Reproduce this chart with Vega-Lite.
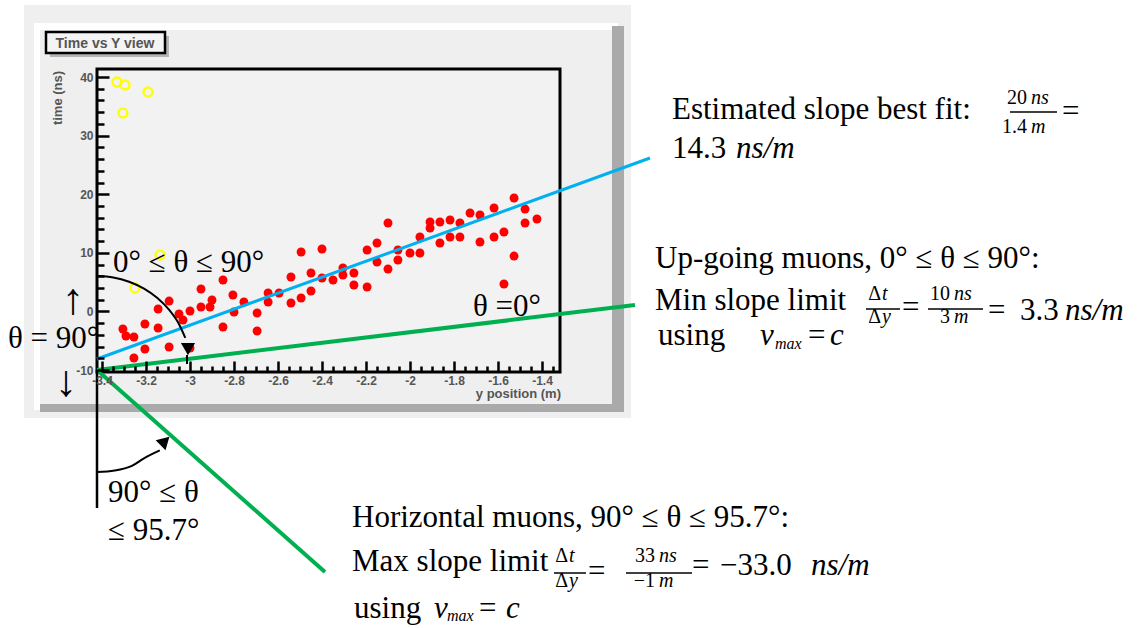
{
  "$schema": "https://vega.github.io/schema/vega-lite/v6.json",
  "width": 463,
  "height": 303,
  "autosize": {"type": "none"},
  "padding": {"left": 97, "top": 69, "right": 587, "bottom": 256},
  "background": "white",
  "config": {"view": {"stroke": null}},
  "datasets": {
    "canvas": [{"x": -3.7545, "x2": -0.9955, "y": 52.287, "y2": -18.191}],
    "padLight": [
      {"x": -3.7091, "x2": -1.0545, "y": 49.215, "y2": 48.02},
      {"x": -3.7091, "x2": -3.6818, "y": 49.215, "y2": -16.826}
    ],
    "padShade": [
      {"x": -1.0818, "x2": -1.0273, "y": 48.703, "y2": -17.167},
      {"x": -3.6818, "x2": -1.0273, "y": -15.802, "y2": -17.167}
    ],
    "titleShadow": [{"x": -3.6364, "x2": -3.0955, "y": 46.997, "y2": 43.413}],
    "titleBox": [{"x": -3.6545, "x2": -3.1136, "y": 47.679, "y2": 44.096}],
    "titleText": [{"x": -3.3864, "y": 44.949, "t": "Time vs Y view"}],
    "yTitle": [{"x": -3.6, "y": 36.416, "t": "time (ns)"}],
    "xTitle": [{"x": -1.3136, "y": -14.778, "t": "y position (m)"}],
    "frame": [{"x": -3.4227, "x2": -1.3182, "y": 41.37, "y2": -10.34}],
    "hits": [
      {"x": -3.305, "y": -3.0}, {"x": -3.291, "y": -4.2}, {"x": -3.255, "y": -4.37}, {"x": -3.205, "y": -2.15},
      {"x": -3.205, "y": -6.42}, {"x": -3.255, "y": -7.95}, {"x": -3.145, "y": 0.41}, {"x": -3.145, "y": -2.83},
      {"x": -3.095, "y": 1.77}, {"x": -3.095, "y": -6.07}, {"x": -3.05, "y": -0.44}, {"x": -3.032, "y": -1.47},
      {"x": -3.0, "y": 0.07}, {"x": -3.0, "y": -6.25}, {"x": -2.95, "y": 3.82}, {"x": -2.95, "y": 0.75},
      {"x": -2.9, "y": 1.95}, {"x": -2.909, "y": 0.75}, {"x": -2.85, "y": 5.36}, {"x": -2.85, "y": -2.66},
      {"x": -2.805, "y": 2.8}, {"x": -2.8, "y": -0.1}, {"x": -2.755, "y": 1.6}, {"x": -2.695, "y": -0.27},
      {"x": -2.695, "y": -3.34}, {"x": -2.645, "y": 3.14}, {"x": -2.645, "y": 1.6}, {"x": -2.595, "y": 3.14},
      {"x": -2.541, "y": 5.87}, {"x": -2.541, "y": 1.43}, {"x": -2.495, "y": 10.14}, {"x": -2.495, "y": 2.29},
      {"x": -2.45, "y": 6.55}, {"x": -2.45, "y": 3.48}, {"x": -2.4, "y": 10.65}, {"x": -2.4, "y": 5.7},
      {"x": -2.35, "y": 5.36}, {"x": -2.305, "y": 7.41}, {"x": -2.305, "y": 6.21}, {"x": -2.255, "y": 6.55},
      {"x": -2.255, "y": 4.51}, {"x": -2.195, "y": 10.48}, {"x": -2.195, "y": 4.16}, {"x": -2.15, "y": 11.67},
      {"x": -2.15, "y": 8.43}, {"x": -2.1, "y": 15.09}, {"x": -2.1, "y": 7.24}, {"x": -2.055, "y": 10.48},
      {"x": -2.055, "y": 8.77}, {"x": -2.0, "y": 9.97}, {"x": -1.955, "y": 12.7}, {"x": -1.955, "y": 9.97},
      {"x": -1.909, "y": 15.26}, {"x": -1.909, "y": 14.23}, {"x": -1.864, "y": 15.26}, {"x": -1.864, "y": 11.67},
      {"x": -1.818, "y": 15.6}, {"x": -1.818, "y": 12.7}, {"x": -1.773, "y": 15.09}, {"x": -1.773, "y": 12.7},
      {"x": -1.727, "y": 16.79}, {"x": -1.682, "y": 16.45}, {"x": -1.682, "y": 11.84}, {"x": -1.618, "y": 17.65},
      {"x": -1.618, "y": 12.7}, {"x": -1.573, "y": 13.55}, {"x": -1.527, "y": 19.35}, {"x": -1.527, "y": 9.45},
      {"x": -1.573, "y": 4.68}, {"x": -1.477, "y": 17.47}, {"x": -1.477, "y": 15.09}, {"x": -1.423, "y": 15.77}
    ],
    "rejected": [
      {"x": -3.332, "y": 39.15}, {"x": -3.295, "y": 38.63}, {"x": -3.191, "y": 37.44},
      {"x": -3.305, "y": 33.86}, {"x": -3.136, "y": 9.63}, {"x": -3.25, "y": 4.0}
    ],
    "fit": [{"x": -3.4227, "y": -8.123}, {"x": -0.9091, "y": 26.178}],
    "upLimit": [{"x": -3.4227, "y": -10.0}, {"x": -0.9773, "y": 1.092}],
    "downLimit": [{"x": -3.4227, "y": -10.0}, {"x": -2.3864, "y": -44.471}],
    "vertical": [{"x": -3.4227, "y": -10.0, "y2": -33.55}],
    "arcUp": [
      {"x": -3.4227, "y": 6.04}, {"x": -3.3486, "y": 5.8}, {"x": -3.2768, "y": 5.07}, {"x": -3.2091, "y": 3.89},
      {"x": -3.1482, "y": 2.29}, {"x": -3.0955, "y": 0.31}, {"x": -3.0527, "y": -1.98}, {"x": -3.0214, "y": -4.52}
    ],
    "arcUpHead": [{"x": -3.0091, "y": -6.416}],
    "arcUpStem": [{"x": -3.0136, "y": -7.44, "y2": -8.976}],
    "arcDown": [
      {"x": -3.4227, "y": -27.41}, {"x": -3.3423, "y": -27.15}, {"x": -3.2641, "y": -26.35},
      {"x": -3.2091, "y": -25.07}, {"x": -3.1373, "y": -23.72}
    ],
    "arcDownHead": [{"x": -3.1136, "y": -22.116}],
    "prose": [
      {"x": -0.8091, "y": 32.833, "t": "Estimated slope best fit:"},
      {"x": -0.8091, "y": 26.177, "t": "14.3"},
      {"x": -0.8864, "y": 7.406, "t": "Up-going muons, 0° ≤ θ ≤ 90°:"},
      {"x": -0.8864, "y": 0.239, "t": "Min slope limit"},
      {"x": -0.8727, "y": -5.734, "t": "using"},
      {"x": -0.1909, "y": -5.734, "t": "="},
      {"x": -2.2636, "y": -36.758, "t": "Horizontal muons, 90° ≤ θ ≤ 95.7°:"},
      {"x": -2.2636, "y": -44.369, "t": "Max slope limit"},
      {"x": -2.2545, "y": -52.321, "t": "using"},
      {"x": -1.6864, "y": -52.321, "t": "="},
      {"x": -3.35, "y": 6.724, "t": "0° ≤ θ ≤ 90°"},
      {"x": -1.7136, "y": -0.785, "t": "θ =0°"},
      {"x": -3.8273, "y": -6.246, "t": "θ = 90°"},
      {"x": -3.3727, "y": -32.526, "t": "90° ≤ θ"},
      {"x": -3.3727, "y": -39.01, "t": "≤ 95.7°"},
      {"x": 0.9636, "y": 32.491, "t": "="},
      {"x": 0.2364, "y": -0.956, "t": "="},
      {"x": 0.6273, "y": -1.468, "t": "="},
      {"x": 0.7727, "y": -1.468, "t": "3.3"},
      {"x": -1.1909, "y": -46.007, "t": "="},
      {"x": -0.7182, "y": -44.983, "t": "="},
      {"x": -0.5909, "y": -44.983, "t": "−33.0"}
    ],
    "arrows": [
      {"x": -3.5318, "y": 1.8, "t": "↑"},
      {"x": -3.5636, "y": -12.218, "t": "↓"}
    ],
    "proseItalic": [
      {"x": -0.5182, "y": 26.177, "t": "ns/m"},
      {"x": 0.9773, "y": -1.468, "t": "ns/m"},
      {"x": -0.1773, "y": -44.983, "t": "ns/m"},
      {"x": -0.4091, "y": -5.734, "t": "v"},
      {"x": -0.0909, "y": -5.734, "t": "c"},
      {"x": -1.8909, "y": -52.321, "t": "v"},
      {"x": -1.5636, "y": -52.321, "t": "c"}
    ],
    "subscripts": [
      {"x": -0.3409, "y": -6.416, "t": "max"},
      {"x": -1.8318, "y": -52.833, "t": "max"}
    ],
    "fracUpright": [
      {"x": 0.8045, "y": 35.392, "t": "20"},
      {"x": 0.8045, "y": 30.444, "t": "1.4"},
      {"x": 0.4545, "y": 1.945, "t": "10"},
      {"x": 0.4545, "y": -1.98, "t": "3"},
      {"x": -0.8864, "y": -42.85, "t": "33"},
      {"x": -0.8864, "y": -47.116, "t": "−1"},
      {"x": 0.1409, "y": 1.945, "t": "Δ"},
      {"x": 0.1409, "y": -1.98, "t": "Δ"},
      {"x": -1.2818, "y": -42.85, "t": "Δ"},
      {"x": -1.2818, "y": -47.116, "t": "Δ"}
    ],
    "fracItalic": [
      {"x": 0.8227, "y": 35.392, "t": "ns"},
      {"x": 0.8227, "y": 30.444, "t": "m"},
      {"x": 0.4727, "y": 1.945, "t": "ns"},
      {"x": 0.4727, "y": -1.98, "t": "m"},
      {"x": -0.8682, "y": -42.85, "t": "ns"},
      {"x": -0.8682, "y": -47.116, "t": "m"},
      {"x": 0.1455, "y": 1.945, "t": "t"},
      {"x": 0.1455, "y": -1.98, "t": "y"},
      {"x": -1.2773, "y": -42.85, "t": "t"},
      {"x": -1.2773, "y": -47.116, "t": "y"}
    ],
    "fracBars": [
      {"x": 0.7273, "x2": 0.9409, "y": 34.027},
      {"x": 0.0727, "x2": 0.2273, "y": 0.41},
      {"x": 0.3545, "x2": 0.6045, "y": 0.41},
      {"x": -1.3455, "x2": -1.2, "y": -44.642},
      {"x": -1.0182, "x2": -0.7182, "y": -44.642}
    ]
  },
  "encoding": {
    "x": {
      "field": "x",
      "type": "quantitative",
      "scale": {"domain": [-3.4227, -1.3182], "nice": false, "zero": false},
      "axis": {
        "values": [-3.4, -3.35, -3.3, -3.25, -3.2, -3.15, -3.1, -3.05, -3, -2.95, -2.9, -2.85, -2.8, -2.75, -2.7, -2.65, -2.6, -2.55, -2.5, -2.45, -2.4, -2.35, -2.3, -2.25, -2.2, -2.15, -2.1, -2.05, -2, -1.95, -1.9, -1.85, -1.8, -1.75, -1.7, -1.65, -1.6, -1.55, -1.5, -1.45, -1.4, -1.35],
        "title": null, "domain": false, "grid": false, "zindex": 1,
        "ticks": true, "tickColor": "#000000", "tickWidth": 2.5,
        "tickSize": {"condition": {"test": "abs(datum.value * 5 - round(datum.value * 5)) < 0.001", "value": -11}, "value": -6},
        "labelExpr": "abs(datum.value * 5 - round(datum.value * 5)) < 0.001 ? replace(format(datum.value, '~g'), '−', '-') : ''",
        "labelFont": "Liberation Sans", "labelFontSize": 12, "labelFontWeight": "bold",
        "labelColor": "#555555", "labelPadding": 14,
        "labelFlush": false, "labelOverlap": false, "labelBound": false
      }
    },
    "y": {
      "field": "y",
      "type": "quantitative",
      "scale": {"domain": [-10.34, 41.37], "nice": false, "zero": false},
      "axis": {
        "values": [-10, -8, -6, -4, -2, 0, 2, 4, 6, 8, 10, 12, 14, 16, 18, 20, 22, 24, 26, 28, 30, 32, 34, 36, 38, 40],
        "title": null, "domain": false, "grid": false, "zindex": 1,
        "ticks": true, "tickColor": "#000000", "tickWidth": 2.5,
        "tickSize": {"condition": {"test": "abs(datum.value % 10) < 0.001", "value": -12}, "value": -7},
        "labelExpr": "abs(datum.value % 10) < 0.001 ? replace(format(datum.value, '~g'), '−', '-') : ''",
        "labelFont": "Liberation Sans", "labelFontSize": 12, "labelFontWeight": "bold",
        "labelColor": "#555555", "labelPadding": 16,
        "labelFlush": false, "labelOverlap": false, "labelBound": false
      }
    }
  },
  "layer": [
    {"data": {"name": "canvas"}, "mark": {"type": "rect", "fill": "#efefef"}, "encoding": {"x2": {"field": "x2"}, "y2": {"field": "y2"}}},
    {"data": {"name": "padLight"}, "mark": {"type": "rect", "fill": "#ffffff"}, "encoding": {"x2": {"field": "x2"}, "y2": {"field": "y2"}}},
    {"data": {"name": "padShade"}, "mark": {"type": "rect", "fill": "#aaaaaa"}, "encoding": {"x2": {"field": "x2"}, "y2": {"field": "y2"}}},
    {"data": {"name": "titleShadow"}, "mark": {"type": "rect", "fill": "#b4b4b4"}, "encoding": {"x2": {"field": "x2"}, "y2": {"field": "y2"}}},
    {"data": {"name": "titleBox"}, "mark": {"type": "rect", "fill": "#f4f4f4", "stroke": "#000000", "strokeWidth": 2.5}, "encoding": {"x2": {"field": "x2"}, "y2": {"field": "y2"}}},
    {"data": {"name": "titleText"}, "mark": {"type": "text", "font": "Liberation Sans", "fontSize": 14, "fontWeight": "bold", "color": "#555555", "align": "center", "baseline": "alphabetic"}, "encoding": {"text": {"field": "t"}}},
    {"data": {"name": "yTitle"}, "mark": {"type": "text", "font": "Liberation Sans", "fontSize": 13, "fontWeight": "bold", "color": "#555555", "align": "center", "baseline": "middle", "angle": 270}, "encoding": {"text": {"field": "t"}}},
    {"data": {"name": "xTitle"}, "mark": {"type": "text", "font": "Liberation Sans", "fontSize": 13, "fontWeight": "bold", "color": "#555555", "align": "right", "baseline": "alphabetic"}, "encoding": {"text": {"field": "t"}}},
    {"data": {"name": "frame"}, "mark": {"type": "rect", "fill": "#f2f2f2", "stroke": "#000000", "strokeWidth": 3}, "encoding": {"x2": {"field": "x2"}, "y2": {"field": "y2"}}},
    {"data": {"name": "hits"}, "mark": {"type": "point", "shape": "circle", "filled": true, "color": "#ff0000", "opacity": 1, "size": 80}},
    {"data": {"name": "rejected"}, "mark": {"type": "point", "shape": "circle", "filled": false, "color": "#ffff00", "opacity": 0.95, "strokeWidth": 2.5, "size": 80}},
    {"data": {"name": "fit"}, "mark": {"type": "line", "color": "#00b0f0", "strokeWidth": 3}},
    {"data": {"name": "upLimit"}, "mark": {"type": "line", "color": "#00b050", "strokeWidth": 4}},
    {"data": {"name": "downLimit"}, "mark": {"type": "line", "color": "#00b050", "strokeWidth": 4}},
    {"data": {"name": "vertical"}, "mark": {"type": "rule", "color": "#000000", "strokeWidth": 2.5}, "encoding": {"y2": {"field": "y2"}}},
    {"data": {"name": "arcUp"}, "mark": {"type": "line", "color": "#000000", "strokeWidth": 2, "interpolate": "monotone"}},
    {"data": {"name": "arcUpHead"}, "mark": {"type": "point", "shape": "triangle-down", "filled": true, "color": "#000000", "opacity": 1, "size": 200}},
    {"data": {"name": "arcUpStem"}, "mark": {"type": "rule", "color": "#000000", "strokeWidth": 2}, "encoding": {"y2": {"field": "y2"}}},
    {"data": {"name": "arcDown"}, "mark": {"type": "line", "color": "#000000", "strokeWidth": 2, "interpolate": "monotone"}},
    {"data": {"name": "arcDownHead"}, "mark": {"type": "point", "shape": "triangle-up", "angle": 46, "filled": true, "color": "#000000", "opacity": 1, "size": 200}},
    {"data": {"name": "prose"}, "mark": {"type": "text", "font": "Liberation Serif", "fontSize": 31, "color": "#000000", "align": "left", "baseline": "alphabetic"}, "encoding": {"text": {"field": "t"}}},
    {"data": {"name": "arrows"}, "mark": {"type": "text", "font": "Liberation Serif", "fontSize": 44, "color": "#000000", "align": "center", "baseline": "middle"}, "encoding": {"text": {"field": "t"}}},
    {"data": {"name": "proseItalic"}, "mark": {"type": "text", "font": "Liberation Serif", "fontSize": 31, "fontStyle": "italic", "color": "#000000", "align": "left", "baseline": "alphabetic"}, "encoding": {"text": {"field": "t"}}},
    {"data": {"name": "subscripts"}, "mark": {"type": "text", "font": "Liberation Serif", "fontSize": 16, "fontStyle": "italic", "color": "#000000", "align": "left", "baseline": "alphabetic"}, "encoding": {"text": {"field": "t"}}},
    {"data": {"name": "fracUpright"}, "mark": {"type": "text", "font": "Liberation Serif", "fontSize": 20, "color": "#000000", "align": "right", "baseline": "alphabetic"}, "encoding": {"text": {"field": "t"}}},
    {"data": {"name": "fracItalic"}, "mark": {"type": "text", "font": "Liberation Serif", "fontSize": 20, "fontStyle": "italic", "color": "#000000", "align": "left", "baseline": "alphabetic"}, "encoding": {"text": {"field": "t"}}},
    {"data": {"name": "fracBars"}, "mark": {"type": "rule", "color": "#000000", "strokeWidth": 1.5}, "encoding": {"x2": {"field": "x2"}}}
  ]
}
